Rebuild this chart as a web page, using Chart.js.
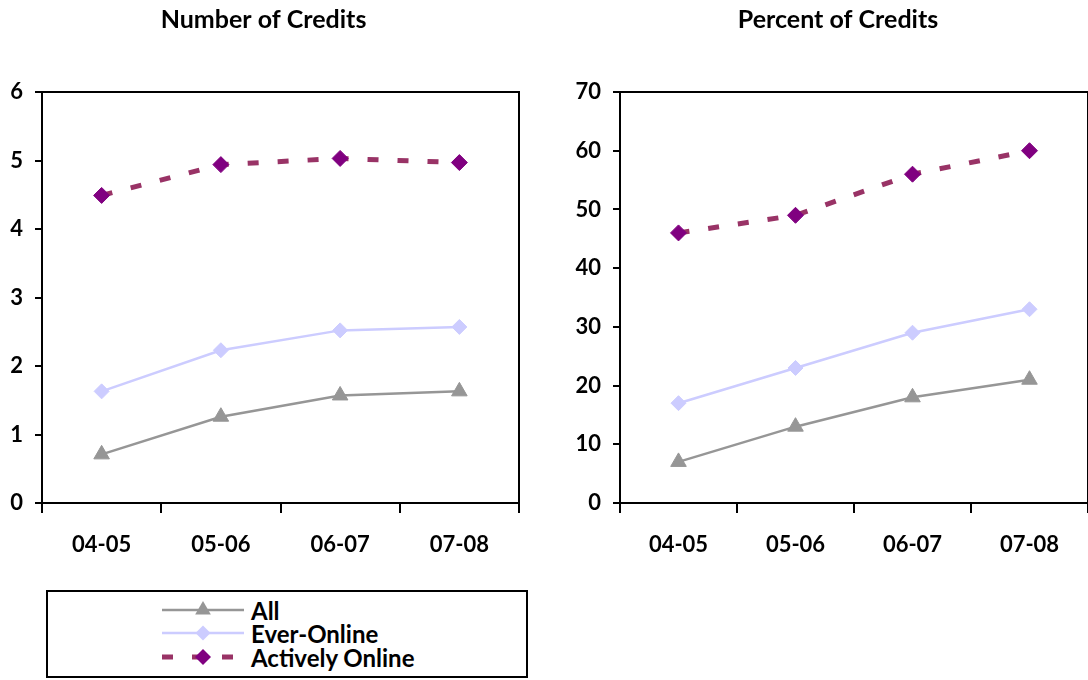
<!DOCTYPE html>
<html lang="en">
<head>
    <meta charset="UTF-8">
    <title>Number and Percent of Credits</title>
    <script src="https://cdn.jsdelivr.net/npm/chart.js"></script>
    <style>
        body { margin: 0; background: #fff; overflow: hidden; }
        .page { position: relative; width: 1088px; height: 680px; overflow: hidden; font-family: Lato, "Open Sans", sans-serif; }
        #numChart { position: absolute; left: 0; top: 0; }
        #pctChart { position: absolute; left: 560px; top: 0; }
        .legend {
            position: absolute; left: 46px; top: 590px; width: 482px; height: 88px;
            border: 2px solid #000; box-sizing: border-box;
        }
        .legend-row { position: absolute; left: 114px; height: 22px; display: flex; align-items: center; }
        .legend-row span { margin-left: 7px; font-weight: bold; font-size: 24px; color: #000; }
    </style>
</head>
<body>
<div class="page">
    <canvas id="numChart" width="529" height="580"></canvas>
    <canvas id="pctChart" width="556" height="580"></canvas>
    <div class="legend" id="legend"></div>
</div>
<script>
    // data
    const categories = ['04-05', '05-06', '06-07', '07-08'];
    const seriesNames = ['All', 'Ever-Online', 'Actively Online'];

    const numAll = [0.71, 1.26, 1.57, 1.63];
    const numEver = [1.63, 2.23, 2.52, 2.57];
    const numActive = [4.49, 4.94, 5.03, 4.97];

    const pctAll = [7, 13, 18, 21];
    const pctEver = [17, 23, 29, 33];
    const pctActive = [46, 49, 56, 60];

    const FONT = 'Lato, "Open Sans", sans-serif';

    const styles = [
        { line: '#969696', point: '#969696', pointStyle: 'triangle', radius: 9, width: 2.5, dash: [] },
        { line: '#CCCCFF', point: '#CCCCFF', pointStyle: 'rectRot', radius: 7.5, width: 2.5, dash: [] },
        { line: '#993366', point: '#800080', pointStyle: 'rectRot', radius: 8, width: 5, dash: [11, 19] }
    ];

    function makeDatasets(values) {
        return values.map((v, i) => ({
            label: seriesNames[i],
            data: v,
            borderColor: styles[i].line,
            borderWidth: styles[i].width,
            borderDash: styles[i].dash,
            pointStyle: styles[i].pointStyle,
            pointRadius: styles[i].radius,
            pointBackgroundColor: styles[i].point,
            pointBorderColor: styles[i].point,
            pointBorderWidth: 1,
            tension: 0,
            fill: false
        }));
    }

    // box around the plot area
    const frame = {
        id: 'frame',
        beforeDatasetsDraw(chart) {
            const a = chart.chartArea;
            const c = chart.ctx;
            c.save();
            c.strokeStyle = '#000';
            c.lineWidth = 2;
            c.strokeRect(a.left, a.top, a.right - a.left, a.bottom - a.top);
            c.restore();
        }
    };

    function makeChart(id, title, values, max, step, axisWidth, layoutRight, xPadRight) {
        return new Chart(document.getElementById(id), {
            type: 'line',
            data: { labels: categories, datasets: makeDatasets(values) },
            plugins: [frame],
            options: {
                responsive: false,
                animation: false,
                layout: { padding: { right: layoutRight, left: 0, top: 0, bottom: 0 } },
                plugins: {
                    legend: { display: false },
                    tooltip: { enabled: false },
                    title: {
                        display: true,
                        text: title,
                        color: '#000',
                        font: { family: FONT, size: 25, weight: 'bold' },
                        padding: { top: 5, bottom: 57 }
                    }
                },
                scales: {
                    x: {
                        offset: true,
                        grid: { offset: true, drawOnChartArea: false, drawTicks: true, tickLength: 10, color: '#000', lineWidth: 2 },
                        border: { display: false },
                        ticks: { color: '#000', padding: 19, maxRotation: 0, font: { family: FONT, size: 22, weight: 'bold' } },
                        afterFit: s => {
                            s.height = 77;
                            if (xPadRight) s.paddingRight = xPadRight;
                        }
                    },
                    y: {
                        min: 0,
                        max: max,
                        grid: { drawOnChartArea: false, drawTicks: true, tickLength: 7, color: '#000', lineWidth: 2 },
                        border: { display: false },
                        ticks: { stepSize: step, color: '#000', padding: 12, font: { family: FONT, size: 22, weight: 'bold' } },
                        afterFit: s => { s.width = axisWidth; }
                    }
                }
            }
        });
    }

    makeChart('numChart', 'Number of Credits', [numAll, numEver, numActive], 6, 1, 42, 2, 0);
    makeChart('pctChart', 'Percent of Credits', [pctAll, pctEver, pctActive], 70, 10, 60, 0, 28);

    // legend below the left chart
    const legend = document.getElementById('legend');
    const rowTops = [7, 30, 54];
    seriesNames.forEach((name, i) => {
        const s = styles[i];
        const row = document.createElement('div');
        row.className = 'legend-row';
        row.style.top = rowTops[i] + 'px';
        const cx = 41, cy = 11, r = s.radius;
        let marker;
        if (s.pointStyle === 'triangle') {
            marker = `<polygon points="${cx},${cy - r} ${cx + r * 0.87},${cy + r * 0.5} ${cx - r * 0.87},${cy + r * 0.5}" fill="${s.point}"/>`;
        } else {
            marker = `<polygon points="${cx},${cy - r} ${cx + r},${cy} ${cx},${cy + r} ${cx - r},${cy}" fill="${s.point}"/>`;
        }
        const dash = s.dash.length ? `stroke-dasharray="${s.dash.join(' ')}"` : '';
        row.innerHTML = `<svg width="82" height="22"><line x1="0" y1="${cy}" x2="82" y2="${cy}" stroke="${s.line}" stroke-width="${s.width}" ${dash}/>${marker}</svg><span>${name}</span>`;
        legend.appendChild(row);
    });
</script>
</body>
</html>
